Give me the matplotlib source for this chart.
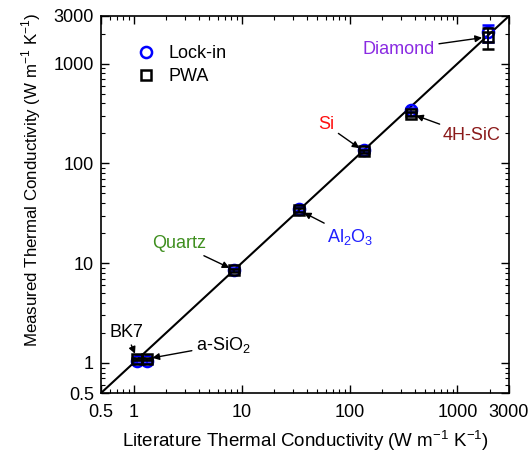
import matplotlib.pyplot as plt
from matplotlib.lines import Line2D

plt.rcParams['font.family'] = ['Liberation Sans', 'DejaVu Sans']
plt.rcParams['mathtext.fontset'] = 'custom'
plt.rcParams['mathtext.rm'] = 'Liberation Sans'

materials = ["BK7", "a-SiO2", "Quartz", "Al2O3", "Si", "4H-SiC", "Diamond"]
literature = [1.08, 1.33, 8.6, 34, 136, 370, 1900]
lockin = [1.04, 1.04, 8.6, 35, 135, 340, 2050]
lockin_err = [0.03, 0.03, 0.3, 1.5, 5, 15, 400]
pwa = [1.1, 1.1, 8.5, 34, 132, 315, 1850]
pwa_err = [0.03, 0.03, 0.3, 1.5, 5, 15, 450]

labels = ["BK7", "a-SiO$_2$", "Quartz", "Al$_2$O$_3$", "Si", "4H-SiC", "Diamond"]
label_colors = ['black', 'black', '#3f8f1f', '#2020ff', '#ff1010', '#8b1a1a', '#8a2be2']
label_offsets = [(-8, 19), (55, 10), (-40, 19), (37, -19), (-27, 19), (44, -16), (-64, -9)]

fig = plt.figure(figsize=(5.3, 4.57), dpi=100)
ax = fig.add_axes([0.1906, 0.140, 0.7698, 0.825])

ax.plot([0.5, 3000], [0.5, 3000], color='black', lw=1.5, zorder=1)

ax.errorbar(literature, lockin, yerr=lockin_err, fmt='o', mfc='none', mec='blue',
            ecolor='blue', mew=1.8, ms=8, capsize=4, elinewidth=1.2, zorder=3)
ax.errorbar(literature, pwa, yerr=pwa_err, fmt='s', mfc='none', mec='black',
            ecolor='black', mew=1.8, ms=7, capsize=4, elinewidth=1.2, zorder=4)

for i in range(len(materials)):
    ax.annotate(labels[i], xy=(literature[i], pwa[i]), xytext=label_offsets[i],
                textcoords='offset points', ha='center', va='center',
                color=label_colors[i], fontsize=13,
                arrowprops=dict(arrowstyle='-|>', color='black', lw=1.0,
                                mutation_scale=10, shrinkA=1, shrinkB=4))

ax.set_xscale('log')
ax.set_yscale('log')
ax.set_xlim(0.5, 3000)
ax.set_ylim(0.5, 3000)
ticks = [0.5, 1, 10, 100, 1000, 3000]
ticklabels = ['0.5', '1', '10', '100', '1000', '3000']
ax.set_xticks(ticks)
ax.set_xticklabels(ticklabels)
ax.set_yticks(ticks)
ax.set_yticklabels(ticklabels)
ax.tick_params(which='both', direction='in', top=True, right=True, labelsize=13)
ax.tick_params(which='major', length=6, width=1.0)
ax.tick_params(which='minor', length=3, width=0.8)
ax.tick_params(axis='x', which='major', pad=8)
ax.tick_params(axis='y', which='major', pad=5)
for s in ax.spines.values():
    s.set_linewidth(1.2)

ax.set_xlabel('Literature Thermal Conductivity (W m$^{-1}$ K$^{-1}$)', fontsize=13.5, labelpad=5)
ax.set_ylabel('Measured Thermal Conductivity (W m$^{-1}$ K$^{-1}$)', fontsize=12.2)
ax.yaxis.set_label_coords(-0.142, 0.565)

handles = [Line2D([], [], ls='none', marker='o', mfc='none', mec='blue', mew=1.8, ms=8),
           Line2D([], [], ls='none', marker='s', mfc='none', mec='black', mew=1.8, ms=7)]
ax.legend(handles, ['Lock-in', 'PWA'], loc='upper left', bbox_to_anchor=(0.045, 0.965),
          frameon=False, fontsize=13, handletextpad=0.6, labelspacing=0.3, handlelength=1.2)

plt.savefig('out.png', dpi=100)
